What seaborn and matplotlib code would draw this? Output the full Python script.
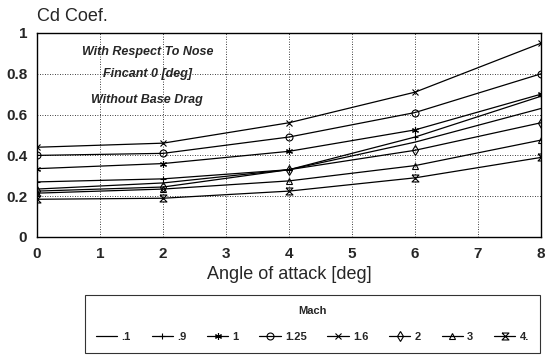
import matplotlib
matplotlib.use("Agg")
import matplotlib.pyplot as plt
import seaborn as sns
import pandas as pd

alpha = [0, 2, 4, 6, 8]
mach_labels = [".1", ".9", "1", "1.25", "1.6", "2", "3", "4."]
cd_m01 = [0.235, 0.265, 0.33, 0.465, 0.63]
cd_m09 = [0.27, 0.285, 0.33, 0.49, 0.69]
cd_m1 = [0.335, 0.36, 0.42, 0.525, 0.70]
cd_m125 = [0.40, 0.41, 0.49, 0.61, 0.80]
cd_m16 = [0.44, 0.46, 0.56, 0.71, 0.95]
cd_m2 = [0.225, 0.245, 0.33, 0.425, 0.56]
cd_m3 = [0.215, 0.235, 0.275, 0.35, 0.475]
cd_m4 = [0.185, 0.19, 0.225, 0.29, 0.39]
series = [cd_m01, cd_m09, cd_m1, cd_m125, cd_m16, cd_m2, cd_m3, cd_m4]
x_ticks = [0, 1, 2, 3, 4, 5, 6, 7, 8]
y_ticks = [0, 0.2, 0.4, 0.6, 0.8, 1.0]
y_ticklabels = ["0", "0.2", "0.4", "0.6", "0.8", "1"]
notes = ["With Respect To Nose", "Fincant 0 [deg]", "Without Base Drag"]

sns.set_style("white")
plt.rcParams["font.family"] = ["Liberation Sans", "DejaVu Sans"]

hourglass = [(-1, 1), (1, 1), (-1, -1), (1, -1), (-1, 1)]
marker_list = ["None", "+", (6, 2, 0), "o", "x", "d", "^", hourglass]

fig = plt.figure(figsize=(5.53, 3.57), dpi=100)
ax = fig.add_axes([37 / 553, 120 / 357, 504 / 553, 204 / 357])

handles = []
for lab, vals, mk in zip(mach_labels, series, marker_list):
    d = pd.DataFrame({"alpha": alpha, "cd": vals})
    sns.lineplot(data=d, x="alpha", y="cd", ax=ax, color="black",
                 linewidth=0.9, marker=mk, markersize=5,
                 markerfacecolor="none", markeredgecolor="black",
                 markeredgewidth=0.8, label=lab)
    handles.append(ax.lines[-1])

ax.set_xlim(0, 8)
ax.set_ylim(0, 1)
ax.set_xticks(x_ticks)
ax.set_xticklabels([str(t) for t in x_ticks], fontweight="bold", fontsize=11)
ax.set_yticks(y_ticks)
ax.set_yticklabels(y_ticklabels, fontweight="bold", fontsize=11)
ax.tick_params(length=0, pad=7)
ax.grid(True, color="black", linestyle=(0, (1, 2)), linewidth=0.6)
for s in ax.spines.values():
    s.set_color("black")
    s.set_linewidth(1.0)
ax.set_xlabel("Angle of attack [deg]", fontsize=13, labelpad=4)
ax.set_ylabel("")

for txt, yv in zip(notes, [0.905, 0.80, 0.67]):
    ax.text(1.75, yv, txt, ha="center", va="center", fontsize=9,
            fontstyle="italic", fontweight="bold")

fig.text(37 / 553, 1 - 21 / 357, "Cd Coef.", fontsize=13, va="baseline", ha="left")

if ax.legend_ is not None:
    ax.legend_.remove()
leg = fig.legend(handles, mach_labels, title="Mach", ncol=8, loc="lower left",
                 bbox_to_anchor=(85 / 553, 4 / 357, 455 / 553, 58 / 357),
                 mode="expand", frameon=True, fancybox=False, fontsize=8,
                 title_fontsize=8, handlelength=1.9, handletextpad=0.4,
                 columnspacing=1.0, borderpad=1.0, labelspacing=1.4,
                 borderaxespad=0)
leg.get_title().set_fontweight("bold")
for t in leg.get_texts():
    t.set_fontweight("bold")
leg.get_frame().set_edgecolor("black")
leg.get_frame().set_linewidth(0.8)

fig.savefig("out.png", dpi=100)
